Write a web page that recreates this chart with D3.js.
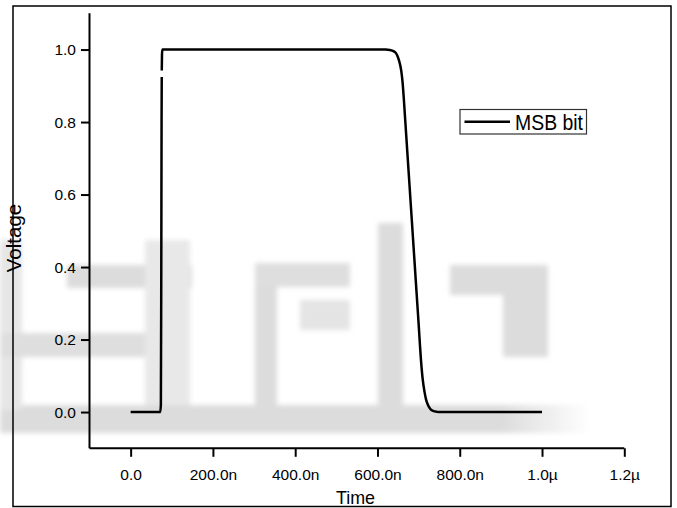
<!DOCTYPE html>
<html>
<head>
<meta charset="utf-8">
<script src="https://cdn.jsdelivr.net/npm/d3@7/dist/d3.min.js"></script>
<style>
  html, body { margin: 0; padding: 0; background: #fff; }
  svg { display: block; }
  text { font-family: "Liberation Sans", Arial, sans-serif; fill: #000; }
</style>
</head>
<body>
<svg id="chart" width="677" height="508"></svg>
<script>
// ---- data (time in ns, voltage in V) ----
const seriesName = "MSB bit";
const timeNs = [0, 72, 73.5, 74.5, 75.2, 75.6, 75.6, 75.7, 76.2, 77, 80, 100, 200, 300, 400, 500, 600, 620, 630, 640, 645, 650, 654, 658, 661, 664, 670, 676, 685, 695, 700, 706, 710, 714.5, 718, 722.5, 728, 735, 745, 751, 800, 900, 1000];
const voltage = [0, 0, 0.02, 0.4, 0.8, 0.924, NaN, 0.942, 0.985, 1.0, 1.0, 1.0, 1.0, 1.0, 1.0, 1.0, 1.0, 1.0, 0.999, 0.995, 0.99, 0.978, 0.963, 0.94, 0.91, 0.865, 0.761, 0.658, 0.503, 0.33, 0.244, 0.14, 0.09, 0.055, 0.035, 0.02, 0.009, 0.003, 0.0005, 0, 0, 0, 0];

const xMajorTicks = [0, 200, 400, 600, 800, 1000, 1200];
const xMajorLabels = ["0.0", "200.0n", "400.0n", "600.0n", "800.0n", "1.0\u00b5", "1.2\u00b5"];
const xMinorTicks = [-100, 100, 300, 500, 700, 900, 1100];
const yMajorTicks = [0, 0.2, 0.4, 0.6, 0.8, 1.0];
const yMajorLabels = ["0.0", "0.2", "0.4", "0.6", "0.8", "1.0"];
const yMinorTicks = [-0.1, 0.1, 0.3, 0.5, 0.7, 0.9, 1.1];
const xTitle = "Time";
const yTitle = "Voltage";

// ---- layout ----
const svg = d3.select("#chart");
const pLeft = 89.5, pRight = 624.3, pTop = 13.3, pBottom = 448.3;

const x = d3.scaleLinear().domain([-100, 1200]).range([pLeft, pRight]);
const y = d3.scaleLinear().domain([-0.1, 1.1]).range([pBottom, pTop]);

// faint background watermark, drawn as blurred grey blocks
const defs = svg.append("defs");
defs.append("filter").attr("id", "blur").append("feGaussianBlur").attr("stdDeviation", 2.5);
const grad = defs.append("linearGradient").attr("id", "fade").attr("x1", "0").attr("x2", "1");
grad.append("stop").attr("offset", "0").attr("stop-color", "#dcdcdc");
grad.append("stop").attr("offset", "0.85").attr("stop-color", "#dcdcdc");
grad.append("stop").attr("offset", "1").attr("stop-color", "#ffffff");
const wm = svg.append("g").attr("filter", "url(#blur)");
const wmBlocks = [
  [0, 405, 590, 28, "url(#fade)"],
  [0, 240, 22, 170, "#e6e6e6"],
  [67, 265, 125, 23, "#dcdcdc"],
  [0, 333, 145, 24, "#dedede"],
  [145, 240, 45, 165, "#e8e8e8"],
  [255, 263, 22, 142, "#dcdcdc"],
  [255, 263, 95, 24, "#dedede"],
  [300, 300, 50, 30, "#e4e4e4"],
  [378, 223, 25, 182, "#dcdcdc"],
  [450, 265, 98, 30, "#dcdcdc"],
  [503, 265, 45, 92, "#dcdcdc"]
];
wm.selectAll("rect").data(wmBlocks).join("rect")
  .attr("x", d => d[0]).attr("y", d => d[1])
  .attr("width", d => d[2]).attr("height", d => d[3])
  .attr("fill", d => d[4]);

// outer frame
svg.append("rect")
  .attr("x", 13).attr("y", 6).attr("width", 658).attr("height", 500.5)
  .attr("fill", "none").attr("stroke", "#000").attr("stroke-width", 1.5);

// x axis
const gx = svg.append("g").attr("transform", `translate(0,${pBottom})`);
gx.call(d3.axisBottom(x).tickValues(xMinorTicks).tickSize(4.5).tickFormat(""));
gx.call(d3.axisBottom(x).tickValues(xMajorTicks).tickSize(8.5)
  .tickFormat((d, i) => xMajorLabels[i]).tickPadding(12));
gx.selectAll(".domain").attr("d", `M${pLeft},0H${pRight}`).attr("stroke-width", 2);
gx.selectAll(".tick line").attr("stroke-width", 2);
gx.selectAll(".tick text").style("font-size", "15.5px").attr("fill", "#000");

// y axis
const gy = svg.append("g").attr("transform", `translate(${pLeft},0)`);
gy.call(d3.axisLeft(y).tickValues(yMinorTicks).tickSize(4.5).tickFormat(""));
gy.call(d3.axisLeft(y).tickValues(yMajorTicks).tickSize(8.5)
  .tickFormat((d, i) => yMajorLabels[i]).tickPadding(5));
gy.selectAll(".domain").attr("d", `M0,${pTop}V${pBottom}`).attr("stroke-width", 2);
gy.selectAll(".tick line").attr("stroke-width", 2);
gy.selectAll(".tick text").style("font-size", "15.5px").attr("fill", "#000");

// axis titles
svg.append("text")
  .attr("x", 336).attr("y", 504)
  .attr("textLength", 39).attr("lengthAdjust", "spacingAndGlyphs")
  .style("font-size", "19px")
  .text(xTitle);
svg.append("text")
  .attr("transform", `translate(21,238) rotate(-90)`)
  .attr("text-anchor", "middle")
  .style("font-size", "20.5px")
  .text(yTitle);

// series line
const data = timeNs.map((t, i) => ({ t, v: voltage[i] }));
const line = d3.line()
  .defined(d => !isNaN(d.v))
  .x(d => x(d.t))
  .y(d => y(d.v))
  .curve(d3.curveMonotoneX);
svg.append("path")
  .datum(data)
  .attr("d", line)
  .attr("fill", "none")
  .attr("stroke", "#000")
  .attr("stroke-width", 2.5)
  .attr("stroke-linejoin", "round");

// legend
const lg = svg.append("g");
lg.append("rect")
  .attr("x", 460).attr("y", 109.5).attr("width", 126.5).attr("height", 24.5)
  .attr("fill", "#fff").attr("stroke", "#333").attr("stroke-width", 1.2);
lg.append("line")
  .attr("x1", 464.5).attr("x2", 510).attr("y1", 121.7).attr("y2", 121.7)
  .attr("stroke", "#000").attr("stroke-width", 2.5);
lg.append("text")
  .attr("x", 515).attr("y", 129.5)
  .attr("textLength", 68).attr("lengthAdjust", "spacingAndGlyphs")
  .style("font-size", "21.5px")
  .text(seriesName);
</script>
</body>
</html>
